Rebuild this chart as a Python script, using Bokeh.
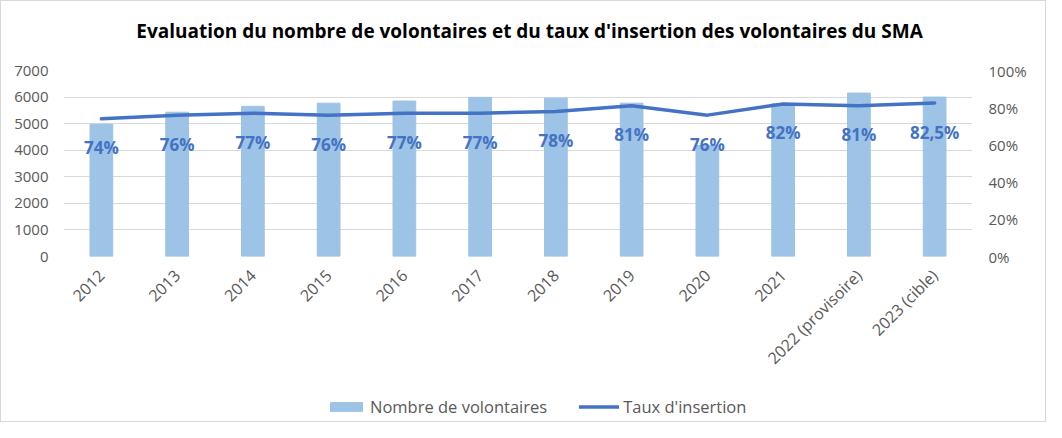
import math
from bokeh.plotting import figure
from bokeh.layouts import column
from bokeh.models import (Range1d, LinearAxis, FactorRange, FixedTicker,
                          NumeralTickFormatter, Legend, LegendItem, Label)
from bokeh.core.properties import value
from bokeh.embed import file_html
from bokeh.resources import INLINE

categories = ["2012", "2013", "2014", "2015", "2016", "2017", "2018", "2019",
              "2020", "2021", "2022 (provisoire)", "2023 (cible)"]
volontaires = [4980, 5430, 5650, 5770, 5850, 5990, 5960, 5770, 4180, 5750, 6150, 6000]
taux = [0.74, 0.76, 0.77, 0.76, 0.77, 0.77, 0.78, 0.81, 0.76, 0.82, 0.81, 0.825]
taux_labels = ["74%", "76%", "77%", "76%", "77%", "77%", "78%", "81%", "76%",
               "82%", "81%", "82,5%"]
left_ticks = [0, 1000, 2000, 3000, 4000, 5000, 6000, 7000]
right_ticks = [0, 0.2, 0.4, 0.6, 0.8, 1.0]
title_text = "Evaluation du nombre de volontaires et du taux d'insertion des volontaires du SMA"
legend_labels = ["Nombre de volontaires", "Taux d'insertion"]

FONT = "Open Sans"
GRAY = "#595959"
BAR = "#9DC3E6"
LINE = "#4472C4"


def strip(height):
    f = figure(width=1044, height=height, output_backend="svg",
               toolbar_location=None, x_range=FactorRange(*categories),
               y_range=Range1d(0, 7000), x_axis_type=None, y_axis_type=None,
               outline_line_color=None, min_border_left=0, min_border_right=0,
               min_border_top=0, min_border_bottom=0)
    f.extra_y_ranges = {"pct": Range1d(0, 1.0)}
    f.xgrid.grid_line_color = None
    f.ygrid.grid_line_color = None
    return f


# ---- title strip
tf = strip(50)
tf.add_layout(Label(x=466, y=21, x_units="screen", y_units="screen",
                    text=title_text, text_align="center", text_baseline="middle",
                    text_font=FONT, text_font_style="bold", text_font_size="19px",
                    text_color="black"))

# ---- main chart
p = figure(x_range=FactorRange(*categories), y_range=Range1d(0, 7000),
           width=1044, height=331, output_backend="svg", toolbar_location=None,
           min_border_left=62, min_border_right=73, min_border_top=19,
           min_border_bottom=126, outline_line_color=None)
p.extra_y_ranges = {"pct": Range1d(0, 1.0)}

bars = p.vbar(x=categories, top=volontaires, width=0.3, color=BAR)
line = p.line(x=categories, y=taux, y_range_name="pct", line_color=LINE,
              line_width=3.5, line_cap="round", line_join="round")
p.text(x=categories, y=taux, text=taux_labels, y_range_name="pct", y_offset=29,
       text_align="center", text_baseline="middle", text_font=value(FONT),
       text_font_style="bold", text_font_size="17px", text_color=LINE)

p.yaxis.ticker = FixedTicker(ticks=left_ticks)
right = LinearAxis(y_range_name="pct", ticker=FixedTicker(ticks=right_ticks),
                   formatter=NumeralTickFormatter(format="0%"))
p.add_layout(right, "right")

for ax in p.yaxis + p.xaxis:
    ax.axis_line_color = None
    ax.major_tick_line_color = None
    ax.minor_tick_line_color = None
    ax.major_label_text_font = FONT
    ax.major_label_text_font_size = "15px"
    ax.major_label_text_color = GRAY
p.xaxis.major_label_text_font_size = "16px"
p.yaxis[0].major_label_standoff = 9
right.major_label_standoff = 10
p.xaxis.major_label_orientation = math.pi / 4
p.xaxis.major_label_standoff = 10

p.xgrid.grid_line_color = None
p.ygrid.grid_line_color = "#D9D9D9"
p.ygrid.grid_line_width = 1

# ---- legend strip (legend inside its own frame so it is not clipped)
lf = strip(39)
lbar = lf.vbar(x=categories, top=volontaires, width=0.3, color=BAR, visible=False)
lline = lf.line(x=categories, y=taux, y_range_name="pct", line_color=LINE,
                line_width=3.5, line_cap="round", visible=False)
legend = Legend(items=[LegendItem(label=legend_labels[0], renderers=[lbar]),
                       LegendItem(label=legend_labels[1], renderers=[lline])],
                orientation="horizontal", location=(263, 3),
                glyph_width=40, glyph_height=11, label_standoff=4, spacing=32,
                padding=0, margin=0, border_line_color=None,
                background_fill_alpha=0, inactive_fill_alpha=0,
                label_text_font=FONT, label_text_font_size="16.5px",
                label_text_color=GRAY)
lf.add_layout(legend)

layout = column(tf, p, lf, spacing=0, styles={"border": "1px solid #D9D9D9"})

open("out.html", "w").write(file_html(layout, INLINE))
